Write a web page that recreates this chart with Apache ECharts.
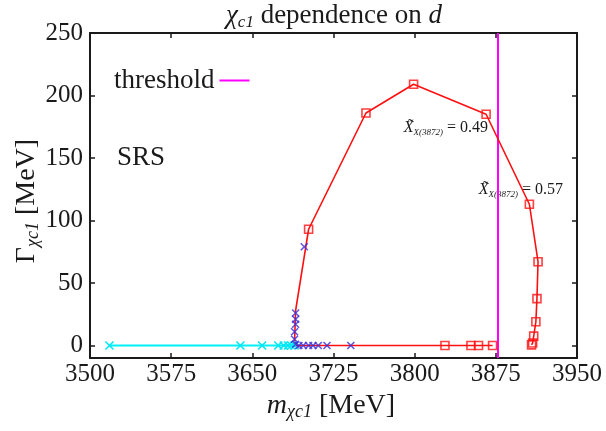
<!DOCTYPE html>
<html>
<head>
<meta charset="utf-8">
<script src="https://cdn.jsdelivr.net/npm/echarts@6/dist/echarts.min.js"></script>
<style>
html, body { margin: 0; background: #fff; }
#chart { width: 606px; height: 431px; }
</style>
</head>
<body>
<div id="chart"></div>
<script>
// tick labels
var xTicks = [3500, 3575, 3650, 3725, 3800, 3875, 3950];
var yTicks = [0, 50, 100, 150, 200, 250];

// cyan crosses, width 0
var cyanPts = [[3518, 0], [3639, 0], [3659, 0], [3674, 0], [3679, 0], [3683, 0], [3686, 0], [3689, 0]];

// blue crosses
var bluePts = [[3698, 79], [3690, 26], [3690, 21], [3690, 17], [3689, 11], [3689, 5], [3690, 1],
  [3693, 0], [3697, 0], [3702, 0], [3706, 0], [3711, 0], [3719, 0], [3741, 0]];

// red trajectory and its squares
var redPath = [[3872, 0], [3859, 0], [3852, 0], [3828, 0], [3741, 0], [3691, 0], [3689, 3], [3690, 28],
  [3702, 93], [3755, 186], [3799, 209], [3866, 185], [3906, 113], [3914, 67], [3913, 37.5],
  [3912, 19], [3910, 7.5], [3909, 2], [3908, 0.5]];
var redSquares = [[3702, 93], [3755, 186], [3799, 209], [3866, 185], [3906, 113], [3914, 67], [3913, 37.5],
  [3912, 19], [3910, 7.5], [3909, 2], [3908, 0.5], [3828, 0], [3852, 0], [3859, 0], [3872, 0]];

var thresholdMass = 3877;

var serif = 'Liberation Serif';
var ink = '#1a1a1a';
var cross = 'path://M0,0L10,10M10,0L0,10';

var chart = echarts.init(document.getElementById('chart'));

function boxAxis(pos, min, max, ticks, labels) {
  return {
    type: 'value', position: pos, min: min, max: max,
    axisLine: { show: true, onZero: false, lineStyle: { color: ink, width: 2 } },
    axisTick: { show: true, inside: true, length: 5, customValues: ticks, lineStyle: { color: ink, width: 1.5 } },
    axisLabel: {
      show: labels, customValues: ticks, fontFamily: serif, fontSize: 25, color: ink,
      margin: pos == 'left' ? 7 : 4,
      formatter: function (v) { return String(v); }
    },
    splitLine: { show: false }
  };
}

chart.setOption({
  animation: false,
  grid: { left: 90, right: 29, top: 33, bottom: 73 },
  xAxis: [boxAxis('bottom', 3500, 3950, xTicks, true), boxAxis('top', 3500, 3950, xTicks, false)],
  yAxis: [boxAxis('left', -10, 250, yTicks, true), boxAxis('right', -10, 250, yTicks, false)],
  legend: {
    data: ['threshold'], left: 109, top: 62, align: 'right', icon: 'rect',
    itemWidth: 30, itemHeight: 2,
    textStyle: { fontFamily: serif, fontSize: 27, color: ink }
  },
  series: [
    {
      name: 'threshold', type: 'line', data: [[thresholdMass, -10], [thresholdMass, 250]],
      showSymbol: false, color: '#ff00ff', lineStyle: { color: '#ff00ff', width: 2 }, z: 1
    },
    {
      name: 'path', type: 'line', data: redPath, showSymbol: false,
      lineStyle: { color: '#ff1010', width: 1.6 }, z: 2
    },
    {
      name: 'squares', type: 'scatter', data: redSquares, symbol: 'rect', symbolSize: 8,
      itemStyle: { color: 'rgba(255,255,255,0)', borderColor: '#ff1010', borderWidth: 1.6 }, z: 3
    },
    {
      name: 'cyan', type: 'line', data: cyanPts, symbol: cross, symbolSize: 8, showAllSymbol: true,
      lineStyle: { color: '#00f0f8', width: 2 },
      itemStyle: { color: 'rgba(0,0,0,0)', borderColor: '#00e8f4', borderWidth: 1.6 }, z: 4
    },
    {
      name: 'blue', type: 'scatter', data: bluePts, symbol: cross, symbolSize: 7,
      itemStyle: { color: 'rgba(0,0,0,0)', borderColor: '#3a2fd8', borderWidth: 1.6 }, z: 5
    }
  ],
  graphic: [
    {
      type: 'text', x: 334, y: 16,
      style: {
        text: '{g|χ}{s|c1}{n| dependence on }{i|d}', align: 'center', verticalAlign: 'middle',
        rich: {
          g: { fontFamily: serif, fontSize: 27, fontStyle: 'italic', fill: ink, lineHeight: 30 },
          s: { fontFamily: serif, fontSize: 17, fontStyle: 'italic', fill: ink, lineHeight: 12, verticalAlign: 'bottom' },
          n: { fontFamily: serif, fontSize: 27, fill: ink, lineHeight: 30 },
          i: { fontFamily: serif, fontSize: 27, fontStyle: 'italic', fill: ink, lineHeight: 30 }
        }
      }
    },
    {
      type: 'text', x: 331, y: 406,
      style: {
        text: '{i|m}{s|χc1}{n| [MeV]}', align: 'center', verticalAlign: 'middle',
        rich: {
          i: { fontFamily: serif, fontSize: 28, fontStyle: 'italic', fill: ink, lineHeight: 30 },
          s: { fontFamily: serif, fontSize: 18, fontStyle: 'italic', fill: ink, lineHeight: 12, verticalAlign: 'bottom' },
          n: { fontFamily: serif, fontSize: 28, fill: ink, lineHeight: 30 }
        }
      }
    },
    {
      type: 'text', x: 27, y: 201, rotation: Math.PI / 2,
      style: {
        text: '{n|Γ}{s|χc1}{n| [MeV]}', align: 'center', verticalAlign: 'middle',
        rich: {
          n: { fontFamily: serif, fontSize: 28, fill: ink, lineHeight: 30 },
          s: { fontFamily: serif, fontSize: 18, fontStyle: 'italic', fill: ink, lineHeight: 12, verticalAlign: 'bottom' }
        }
      }
    },
    {
      type: 'text', x: 117, y: 158,
      style: { text: 'SRS', fontFamily: serif, fontSize: 27, fill: ink, verticalAlign: 'middle' }
    },
    {
      type: 'text', x: 488, y: 128,
      style: {
        text: '{x|X\u0303}{s|X(3872)}{n| = 0.49}', align: 'right', verticalAlign: 'middle',
        rich: {
          x: { fontFamily: serif, fontSize: 16, fontStyle: 'italic', fill: ink, lineHeight: 18 },
          s: { fontFamily: serif, fontSize: 9, fontStyle: 'italic', fill: ink, lineHeight: 8, verticalAlign: 'bottom' },
          n: { fontFamily: serif, fontSize: 16, fill: ink, lineHeight: 18 }
        }
      }
    },
    {
      type: 'text', x: 563, y: 190,
      style: {
        text: '{x|X\u0303}{s|X(3872)}{n| = 0.57}', align: 'right', verticalAlign: 'middle',
        rich: {
          x: { fontFamily: serif, fontSize: 16, fontStyle: 'italic', fill: ink, lineHeight: 18 },
          s: { fontFamily: serif, fontSize: 9, fontStyle: 'italic', fill: ink, lineHeight: 8, verticalAlign: 'bottom' },
          n: { fontFamily: serif, fontSize: 16, fill: ink, lineHeight: 18 }
        }
      }
    }
  ]
});
</script>
</body>
</html>
